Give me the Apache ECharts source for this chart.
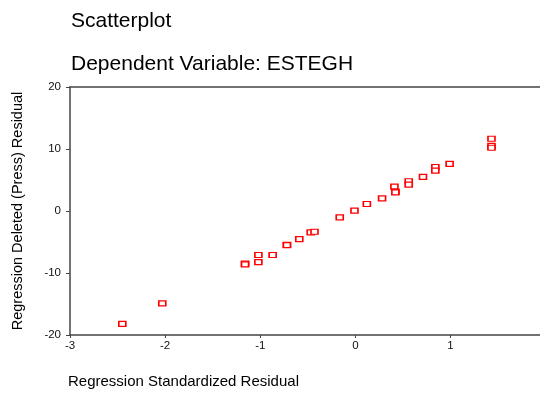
<!DOCTYPE html>
<html>
<head>
<meta charset="utf-8">
<script src="https://cdn.jsdelivr.net/npm/echarts@6/dist/echarts.min.js"></script>
<style>html,body{margin:0;padding:0;background:#fff}#c{width:540px;height:394px}</style>
</head>
<body>
<div id="c"></div>
<script>
const titleText = "Scatterplot";
const subtitleText = "Dependent Variable: ESTEGH";
const xAxisTitle = "Regression Standardized Residual";
const yAxisTitle = "Regression Deleted (Press) Residual";
const stdResid = [-2.45, -2.03, -1.16, -1.16, -1.02, -1.02, -0.87, -0.72, -0.72, -0.59, -0.47, -0.43, -0.165, -0.01, 0.12, 0.28, 0.41, 0.42, 0.42, 0.56, 0.56, 0.71, 0.84, 0.84, 0.99, 1.43, 1.43, 1.43];
const pressResid = [-18.2, -14.9, -8.5, -8.6, -7.1, -8.25, -7.1, -5.45, -5.5, -4.53, -3.45, -3.35, -1.02, 0.05, 1.13, 2.05, 3.93, 3.12, 3.0, 4.8, 4.26, 5.5, 7.1, 6.5, 7.6, 11.65, 10.5, 10.2];

const chart = echarts.init(document.getElementById('c'));
const pts = stdResid.map((x, i) => [x, pressResid[i]]);
const font = 'Arial, "Liberation Sans", sans-serif';
chart.setOption({
  animation: false,
  backgroundColor: '#fff',
  title: [
    {text: titleText, left: 66, top: 6, textStyle: {fontFamily: font, fontSize: 21, fontWeight: 'normal', color: '#000'}},
    {text: subtitleText, left: 66, top: 49, textStyle: {fontFamily: font, fontSize: 21, fontWeight: 'normal', color: '#000'}}
  ],
  graphic: [
    {type: 'text', left: 68, top: 374, style: {text: xAxisTitle, font: '15px ' + font, fill: '#000'}}
  ],
  grid: {left: 70, right: 0, top: 87, bottom: 59, containLabel: false},
  xAxis: [{
    type: 'value', min: -3, max: 1.94, interval: 1,
    axisLine: {show: true, onZero: false, lineStyle: {color: '#444', width: 1.5}},
    axisTick: {show: true, length: 3, lineStyle: {color: '#444'}},
    axisLabel: {color: '#111', fontSize: 11.5, fontFamily: font, margin: 5, showMaxLabel: false},
    splitLine: {show: false}
  }, {
    type: 'value', position: 'top', min: -3, max: 1.94,
    axisLine: {show: true, onZero: false, lineStyle: {color: '#444', width: 1.5}},
    axisTick: {show: false}, axisLabel: {show: false}, splitLine: {show: false}
  }],
  yAxis: {
    type: 'value', min: -20, max: 20, interval: 10,
    name: yAxisTitle, nameLocation: 'middle', nameGap: 45, nameRotate: 90,
    nameTextStyle: {color: '#000', fontSize: 14.5, fontFamily: font},
    axisLine: {show: true, onZero: false, lineStyle: {color: '#444', width: 1.5}},
    axisTick: {show: true, length: 4, lineStyle: {color: '#444'}},
    axisLabel: {color: '#111', fontSize: 11.5, fontFamily: font, margin: 9},
    splitLine: {show: false}
  },
  series: [{
    type: 'scatter', xAxisIndex: 0, data: pts,
    symbol: 'rect', symbolSize: [7, 5],
    itemStyle: {color: '#fff', borderColor: '#ff0000', borderWidth: 1.4, opacity: 1}
  }]
});
</script>
</body>
</html>
